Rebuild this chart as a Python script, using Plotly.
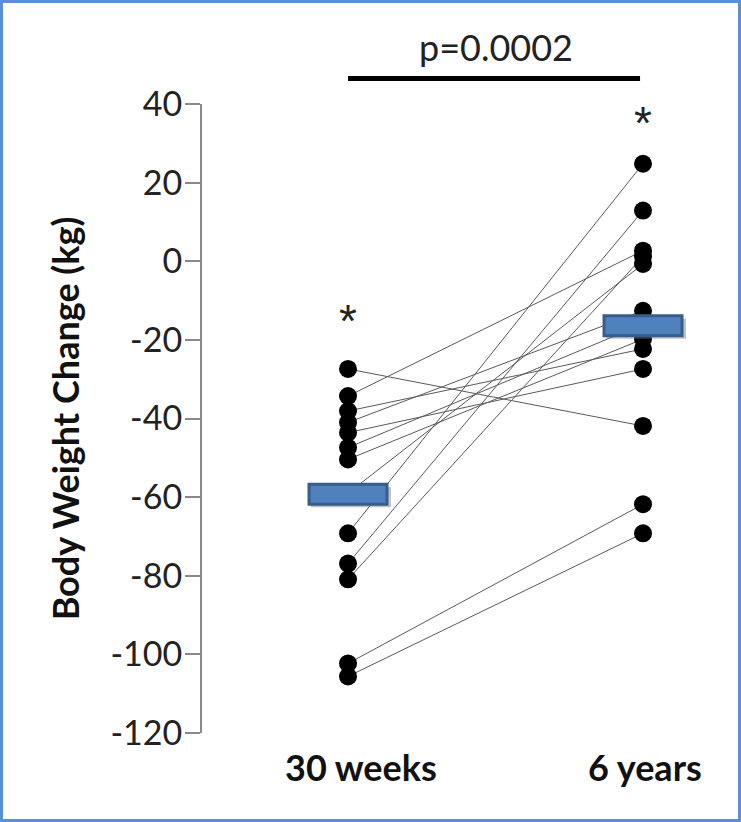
import plotly.graph_objects as go

# Body weight change per subject at the two follow-up points (kg)
timepoints = ["30 weeks", "6 years"]
week30 = [-27.4, -34.3, -38.1, -41.0, -43.6, -47.4, -50.4, -59.0, -69.2, -76.9, -80.9, -102.3, -105.6]
year6 = [-41.9, 2.7, -22.3, -12.6, -27.4, -16.0, -19.8, -0.7, 24.8, 12.9, 1.2, -61.8, -69.2]
group_means = [-59.3, -16.4]
star_y = [-13.9, 36.4]
p_label = "p=0.0002"
bracket_y = 46.5
y_ticks = list(range(-120, 41, 20))
y_ticktext = [str(v) for v in y_ticks]  # plain hyphen minus

FONT = "Lato"
W, H = 741, 822
ML, MR, MT, MB = 202, 21, 104, 89
Y_MIN, Y_MAX = -120, 40

def to_paper_y(v):
    return (v - Y_MIN) / (Y_MAX - Y_MIN)

fig = go.Figure()

# paired lines, one per subject
for a, b in zip(week30, year6):
    fig.add_trace(go.Scatter(
        x=[0, 1], y=[a, b], mode="lines",
        line=dict(color="#5a5a5a", width=1),
        hoverinfo="skip", showlegend=False,
    ))

# individual points
fig.add_trace(go.Scatter(
    x=[0] * len(week30) + [1] * len(year6),
    y=week30 + year6,
    mode="markers",
    marker=dict(color="black", size=18, line=dict(width=0)),
    showlegend=False,
))

# group mean bars (shadow + bar), fixed pixel size anchored at the mean value
for i, m in enumerate(group_means):
    fig.add_shape(type="rect", xref="x", yref="y",
                  xsizemode="pixel", ysizemode="pixel",
                  xanchor=i, yanchor=m,
                  x0=-37, x1=43, y0=-13, y1=7,
                  fillcolor="rgba(120,120,120,0.45)", line=dict(width=0), layer="above")
    fig.add_shape(type="rect", xref="x", yref="y",
                  xsizemode="pixel", ysizemode="pixel",
                  xanchor=i, yanchor=m,
                  x0=-39, x1=39, y0=-10, y1=10,
                  fillcolor="#4f81bd", line=dict(color="#385d8a", width=3), layer="above")

# significance stars
for i, sy in enumerate(star_y):
    fig.add_annotation(x=i, y=to_paper_y(sy), yref="paper", yanchor="middle",
                       text="*", showarrow=False,
                       font=dict(family="Liberation Sans", size=46, color="#222"), yshift=-5)

# comparison bracket with p-value
fig.add_shape(type="line", xref="x", yref="paper", x0=0, x1=0.99,
              y0=to_paper_y(bracket_y), y1=to_paper_y(bracket_y),
              line=dict(color="black", width=5))
fig.add_annotation(x=0.5, y=to_paper_y(bracket_y), yref="paper", text=p_label,
                   showarrow=False, yanchor="bottom", yshift=7,
                   font=dict(family=FONT, size=36, color="#222"))

# category labels
for i, name in enumerate(timepoints):
    fig.add_annotation(x=i, y=0, yref="paper", text=f"<b>{name}</b>", showarrow=False,
                       yanchor="top", yshift=-10, xshift=13 if i == 0 else 2,
                       font=dict(family=FONT, size=36, color="#111"))

# frame around the whole figure
pw, ph = W - ML - MR, H - MT - MB
fig.add_shape(type="rect", xref="paper", yref="paper",
              x0=-ML / pw + 1.5 / pw, x1=1 + MR / pw - 1.5 / pw,
              y0=-MB / ph + 1.5 / ph, y1=1 + MT / ph - 1.5 / ph,
              line=dict(color="#5b8fd8", width=3))

fig.update_layout(
    width=W, height=H,
    margin=dict(l=ML, r=MR, t=MT, b=MB, autoexpand=False),
    paper_bgcolor="white", plot_bgcolor="white",
    font=dict(family=FONT, color="#222"),
    xaxis=dict(range=[-0.495, 1.261], showgrid=False, zeroline=False,
               showline=False, showticklabels=False, ticks=""),
    yaxis=dict(range=[Y_MIN, Y_MAX], tickvals=y_ticks, ticktext=y_ticktext,
               showgrid=False, zeroline=False,
               showline=True, linecolor="#8a8a8a", linewidth=2,
               ticks="outside", ticklen=15, tickwidth=2, tickcolor="#8a8a8a",
               ticklabelstandoff=-4,
               tickfont=dict(family=FONT, size=34, color="#222"),
               title=dict(text="<b>Body Weight Change (kg)</b>", standoff=20,
                          font=dict(family=FONT, size=36, color="#111"))),
)

fig.write_html("out.html")
